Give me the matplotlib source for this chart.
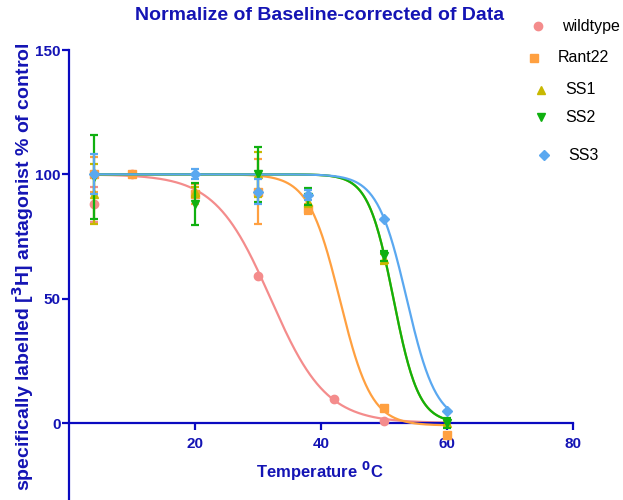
import numpy as np
import matplotlib
matplotlib.use("Agg")
import matplotlib.pyplot as plt
from matplotlib.lines import Line2D

plt.rcParams['font.family'] = ['Liberation Sans', 'DejaVu Sans']

# Measured points: temperature (°C), % of control, SEM
series_names = ["wildtype", "Rant22", "SS1", "SS2", "SS3"]

wt_x = [4, 10, 30, 42, 50]
wt_y = [88, 100, 59, 9.5, 1]
wt_err = [7, 0, 0, 0, 0]

r22_x = [4, 10, 20, 30, 38, 50, 60]
r22_y = [100, 100, 92, 93, 86, 6, -5]
r22_err = [7, 0, 4, 13, 2, 0, 0]

ss1_x = [4, 20, 30, 38, 50, 60]
ss1_y = [92, 93, 100, 89, 66, 0]
ss1_err = [12, 2, 9, 2, 2, 1]

ss2_x = [4, 20, 30, 38, 50, 60]
ss2_y = [99, 88, 100, 91, 67, 0]
ss2_err = [17, 8.5, 11, 3.5, 2, 2]

ss3_x = [4, 20, 30, 38, 50, 60]
ss3_y = [100, 100, 93, 91.5, 82, 5]
ss3_err = [8, 2, 5, 2, 0, 0]

# Boltzmann fit parameters: top, bottom, T50, slope
fit_top = [100, 100, 100, 100, 100]
fit_bottom = [0, -1, 0, 0, 0]
fit_t50 = [32.0, 43.0, 51.5, 51.5, 53.6]
fit_slope = [4.4, 2.5, 2.0, 2.0, 2.34]

colors = ["#F48C8C", "#FFA040", "#C8B800", "#10B010", "#5AA8F0"]
markers = ["o", "s", "^", "v", "D"]
msizes = [6, 6, 6, 6, 5]

xs = [wt_x, r22_x, ss1_x, ss2_x, ss3_x]
ys = [wt_y, r22_y, ss1_y, ss2_y, ss3_y]
es = [wt_err, r22_err, ss1_err, ss2_err, ss3_err]

axis_blue = "#0A0AC0"
text_blue = "#1414B4"

W, H = 623, 500
fig = plt.figure(figsize=(W / 100, H / 100), dpi=100)

# axes in pixel geometry: x 0..80 -> px 69..573, y 150 at px 50, 0 at px 423
ymin, ymax = -40, 150
ppu = (423 - 50) / 150.0
y_bottom_px = 423 + (0 - ymin) * ppu
left = 69 / W
width = (573 - 69) / W
bottom = 1 - y_bottom_px / H
height = (y_bottom_px - 50) / H
ax = fig.add_axes([left, bottom, width, height])

ax.set_xlim(0, 80)
ax.set_ylim(ymin, ymax)

tfit = np.linspace(4, 60, 400)
for i in range(5):
    curve = fit_bottom[i] + (fit_top[i] - fit_bottom[i]) / (1 + np.exp((tfit - fit_t50[i]) / fit_slope[i]))
    ax.plot(tfit, curve, color=colors[i], lw=1.6, zorder=2 + i, clip_on=False)

for i in range(5):
    ax.errorbar(xs[i], ys[i], yerr=es[i], fmt=markers[i], color=colors[i],
                ms=msizes[i], elinewidth=1.6, capsize=3, capthick=1.6,
                zorder=3 + i, clip_on=False)

for s in ["top", "right"]:
    ax.spines[s].set_visible(False)
ax.spines["bottom"].set_position(("data", 0))
ax.spines["left"].set_bounds(ymin, ymax)
for s in ["left", "bottom"]:
    ax.spines[s].set_color(axis_blue)
    ax.spines[s].set_linewidth(1.6)

ax.set_xticks([20, 40, 60, 80])
ax.set_yticks([0, 50, 100, 150])
ax.tick_params(axis="both", direction="out", length=5, width=1.6,
               color=axis_blue, labelcolor=text_blue, labelsize=11)
ax.tick_params(axis="x", pad=5)
ax.tick_params(axis="y", pad=1)
for lab in ax.get_xticklabels() + ax.get_yticklabels():
    lab.set_fontweight("bold")

fig.text(320 / W, 1 - 15 / H, "Normalize of Baseline-corrected of Data",
         ha="center", va="center", fontsize=14, fontweight="bold", color=text_blue)
fig.text(320 / W, 1 - 471 / H, "Temperature $\\mathbf{^0}$C",
         ha="center", va="center", fontsize=12, fontweight="bold", color=text_blue)
fig.text(23 / W, 1 - 42 / H, "specifically labelled [$\\mathbf{^3}$H] antagonist % of control",
         ha="center", va="top", rotation=90, fontsize=14, fontweight="bold", color=text_blue)

# legend entries
leg_marker_px = [(538, 26), (534, 58), (541, 90), (541, 117), (544, 155)]
leg_text_px = [(562, 26), (558, 58), (565, 90), (565, 117), (568, 155)]
for i in range(5):
    mx, my = leg_marker_px[i]
    fig.add_artist(Line2D([mx / W], [1 - my / H], marker=markers[i], color=colors[i],
                          ms=msizes[i], linestyle="none", transform=fig.transFigure))
    tx, ty = leg_text_px[i]
    fig.text(tx / W, 1 - ty / H, series_names[i], ha="left", va="center",
             fontsize=11.5, color="black")

fig.savefig("out.png", dpi=100)
